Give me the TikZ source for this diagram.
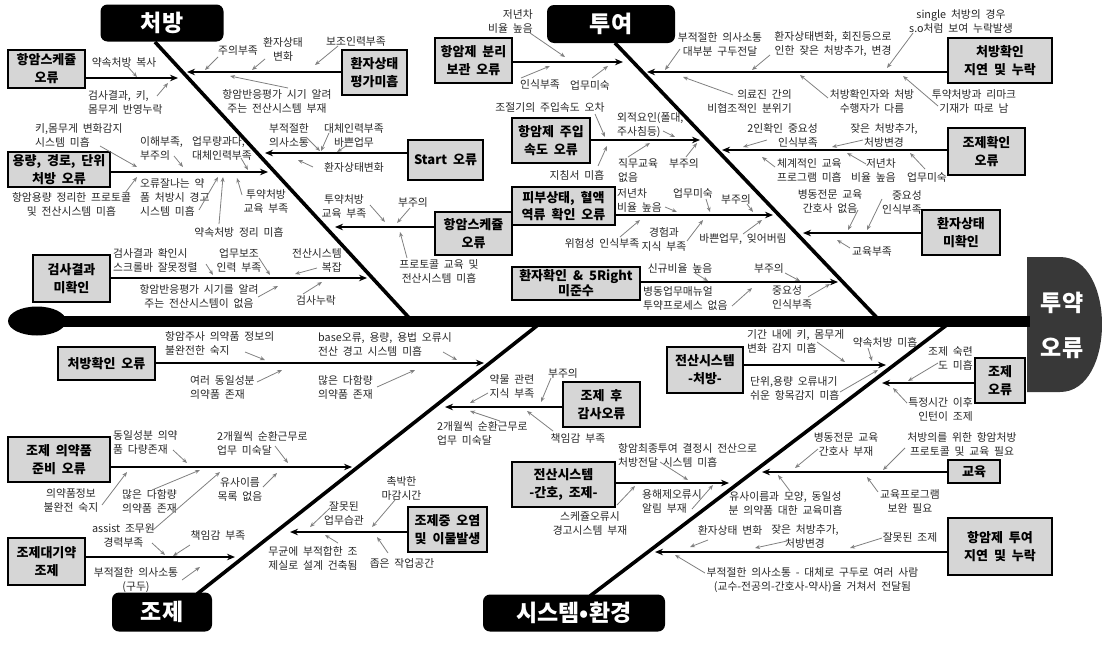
\documentclass[tikz,border=0pt]{standalone}
\usepackage{fontspec}
\setmainfont{Noto Sans CJK KR}[WordSpace=2]
\usetikzlibrary{arrows.meta,shapes.geometric}
\begin{document}
\begin{tikzpicture}[x=1pt,y=-1pt,
  lab/.style={font=\fontsize{10.8}{14}\selectfont, text=black!85, inner sep=0pt, align=center},
  labl/.style={lab, align=left, anchor=west},
  labr/.style={lab, align=right, anchor=east},
  cbox/.style={draw=black, line width=1.8pt, fill=black!16, font=\bfseries\fontsize{13}{18}\selectfont, align=center, inner sep=0pt},
  catbox/.style={fill=black, rounded corners=7pt, text=white, font=\bfseries\fontsize{23}{26}\selectfont, inner sep=0pt},
  headtxt/.style={text=white, font=\bfseries\fontsize{23}{26}\selectfont, inner sep=0pt},
  mainarr/.style={line width=1.8pt, -{Stealth[length=8pt,width=6.5pt]}},
  garr/.style={draw=black!50, line width=0.8pt, -{Stealth[length=5pt,width=4pt]}},
  bone/.style={line width=3.6pt},
]
\useasboundingbox (0,0) rectangle (1102,645);

% ---------- spine, tail, head ----------
\node[ellipse, fill=black, minimum width=58pt, minimum height=29pt, inner sep=0pt] (tail) at (37,321) {};
\coordinate (hd) at (1030,321);
\fill[black!78, rounded corners=4pt] (1027,392) -- (1027,257) -- (1045,257);
\fill[black!78] (1027,257) -- (1060,257) .. controls (1116,257) and (1116,392) .. (1060,392) -- (1027,392) -- cycle;
\draw[line width=11pt] (tail.center) -- (hd);
\node[headtxt] (h1) at (1062,303) {투약};
\node[headtxt] (h2) at (1062,348) {오류};

% ---------- categories ----------
\node[catbox, minimum width=123pt, minimum height=37pt] (cat1) at (162,23) {처방};
\node[catbox, minimum width=128pt, minimum height=38pt] (cat2) at (611,24) {투여};
\node[catbox, minimum width=100pt, minimum height=39pt] (cat3) at (162,612) {조제};
\node[catbox, minimum width=182pt, minimum height=37pt] (cat4) at (574,613) {시스템•환경};

% ---------- bones ----------
\coordinate (k1) at (155,42);  \coordinate (s1) at (412,321);
\coordinate (k2) at (615,43);  \coordinate (s2) at (880,321);
\coordinate (k3) at (197,594); \coordinate (s3) at (543,321);
\coordinate (k4) at (590,596); \coordinate (s4) at (952,321);
\draw[bone] (k1) -- (s1);
\draw[bone] (k2) -- (s2);
\draw[bone] (s3) -- (k3);
\draw[bone] (s4) -- (k4);

% ---------- cause boxes ----------
\node[cbox, minimum width=77pt, minimum height=38pt] (b1) at (46.5,69) {항암스케쥴\\오류};
\node[cbox, minimum width=65pt, minimum height=45pt] (b2) at (374.5,72.5) {환자상태\\평가미흡};
\node[cbox, minimum width=102pt, minimum height=35pt] (b3) at (59,169.5) {용량, 경로, 단위\\처방 오류};
\node[cbox, minimum width=75pt, minimum height=40pt] (b4) at (445.5,160) {Start 오류};
\node[cbox, minimum width=77pt, minimum height=47pt] (b5) at (71.5,278.5) {검사결과\\미확인};
\node[cbox, minimum width=77pt, minimum height=43pt] (b6) at (473.5,233.5) {항암스케쥴\\오류};
\node[cbox, minimum width=97pt, minimum height=33pt] (b7) at (106.5,363.5) {처방확인 오류};
\node[cbox, minimum width=103pt, minimum height=38pt, font=\bfseries\fontsize{13}{17}\selectfont] (b8) at (563.5,206) {피부상태, 혈액\\역류 확인 오류};
\node[cbox, minimum width=128pt, minimum height=33pt, font=\bfseries\fontsize{13}{15}\selectfont] (b9) at (576,283.5) {환자확인 \& 5Right\\미준수};
\node[cbox, minimum width=77pt, minimum height=45pt] (b10) at (473.5,60.5) {항암제 분리\\보관 오류};
\node[cbox, minimum width=78pt, minimum height=45pt] (b11) at (551,140.5) {항암제 주입\\속도 오류};
\node[cbox, minimum width=104pt, minimum height=45pt] (b12) at (1000,60.5) {처방확인\\지연 및 누락};
\node[cbox, minimum width=77pt, minimum height=47pt] (b13) at (986.5,151.5) {조제확인\\오류};
\node[cbox, minimum width=78pt, minimum height=45pt] (b14) at (961,232.5) {환자상태\\미확인};
\node[cbox, minimum width=76pt, minimum height=46pt] (b15) at (705,370) {전산시스템\\-처방-};
\node[cbox, minimum width=50pt, minimum height=45pt] (b16) at (1000,380.5) {조제\\오류};
\node[cbox, minimum width=103pt, minimum height=45pt] (b17) at (563.5,484.5) {전산시스템\\-간호, 조제-};
\node[cbox, minimum width=52pt, minimum height=23pt] (b18) at (974,471.5) {교육};
\node[cbox, minimum width=104pt, minimum height=57pt] (b19) at (1000,546.5) {항암제 투여\\지연 및 누락};
\node[cbox, minimum width=77pt, minimum height=45pt] (b20) at (601.5,404.5) {조제 후\\감사오류};
\node[cbox, minimum width=102pt, minimum height=45pt] (b21) at (59,459.5) {조제 의약품\\준비 오류};
\node[cbox, minimum width=77pt, minimum height=47pt] (b22) at (46.5,561.5) {조제대기약\\조제};
\node[cbox, minimum width=79pt, minimum height=45pt] (b23) at (447.5,529.5) {조제중 오염\\및 이물발생};

% ---------- main sub-bone arrows ----------
\coordinate (e1) at (178,78);   \draw[mainarr] (b1.east |- e1) -- (e1);
\coordinate (e2) at (187,72);   \draw[mainarr] (b2.west |- e2) -- (e2);
\coordinate (e3) at (268,172);  \draw[mainarr] (b3.east |- e3) -- (e3);
\coordinate (e4) at (265,153);  \draw[mainarr] (b4.west |- e4) -- (e4);
\coordinate (e5) at (367,278);  \draw[mainarr] (b5.east |- e5) -- (e5);
\coordinate (e6) at (335,227);  \draw[mainarr] (b6.west |- e6) -- (e6);
\coordinate (e7) at (484,363);  \draw[mainarr] (b7.east |- e7) -- (e7);
\coordinate (e8) at (773,215);  \draw[mainarr] (b8.east |- e8) -- (e8);
\coordinate (e9) at (838,282);  \draw[mainarr] (b9.east |- e9) -- (e9);
\coordinate (e10) at (623,62);  \draw[mainarr] (b10.east |- e10) -- (e10);
\coordinate (e11) at (700,140); \draw[mainarr] (b11.east |- e11) -- (e11);
\coordinate (e12) at (647,72);  \draw[mainarr] (b12.west |- e12) -- (e12);
\coordinate (e13) at (722,150); \draw[mainarr] (b13.west |- e13) -- (e13);
\coordinate (e14) at (803,233); \draw[mainarr] (b14.west |- e14) -- (e14);
\coordinate (e15) at (886,365); \draw[mainarr] (b15.east |- e15) -- (e15);
\coordinate (e16) at (882,383); \draw[mainarr] (b16.west |- e16) -- (e16);
\coordinate (e17) at (729,483); \draw[mainarr] (b17.east |- e17) -- (e17);
\coordinate (e18) at (762,472); \draw[mainarr] (b18.west |- e18) -- (e18);
\coordinate (e19) at (655,552); \draw[mainarr] (b19.west |- e19) -- (e19);
\coordinate (e20) at (445,407); \draw[mainarr] (b20.west |- e20) -- (e20);
\coordinate (e21) at (352,467); \draw[mainarr] (b21.east |- e21) -- (e21);
\coordinate (e22) at (235,557); \draw[mainarr] (b22.east |- e22) -- (e22);
\coordinate (e23) at (290,532); \draw[mainarr] (b23.west |- e23) -- (e23);

% ---------- labels: 처방 ----------
\node[lab] (l1) at (124,62) {약속처방 복사};
\draw[garr] (128,67) -- (137,77);
\node[labl] (l2) at (88,102.5) {검사결과, 키,\\몸무게 반영누락};
\draw[garr] (157,96) -- (168,83);
\node[lab] (l3) at (238,50) {주의부족};
\draw[garr] (218,57) -- (205,70);
\node[lab] (l4) at (283,49.5) {환자상태\\변화};
\draw[garr] (265,59) -- (252,70);
\node[lab] (l5) at (356,41) {보조인력부족};
\draw[garr] (338,46) -- (315,65);
\node[lab] (l6) at (277,101.5) {항암반응평가 시기 알려\\주는 전산시스템 부재};
\draw[garr] (288,88) -- (230,76);
\node[labl] (l7) at (35,135.5) {키,몸무게 변화감지\\시스템 미흡};
\draw[garr] (100,146) -- (137,167);
\node[labl] (l8) at (140,148) {이해부족,\\부주의};
\draw[garr] (174,156) -- (183,167);
\node[labl] (l9) at (192,148) {업무량과다,\\대체인력부족};
\draw[garr] (241,158) -- (248,170);
\node[lab] (l10) at (71.5,204.5) {항암용량 정리한 프로토콜\\및 전산시스템 미흡};
\draw[garr] (125,193) -- (137,177);
\node[labl] (l11) at (140,197.5) {오류잘나는 약\\품 처방시 경고\\시스템 미흡};
\draw[garr] (199,210) -- (218,177);
\node[lab] (l12) at (239,232) {약속처방 정리 미흡};
\draw[garr] (219,224) -- (223,177);
\node[lab] (l13) at (266,201.5) {투약처방\\교육 부족};
\draw[garr] (242,195) -- (237,178);
\node[lab] (l14) at (289,135.5) {부적절한\\의사소통};
\draw[garr] (306,137) -- (320,151);
\node[lab] (l15) at (354,135.5) {대체인력부족\\바쁜업무};
\draw[garr] (329,133) -- (321,151);
\draw[garr] (346,146) -- (337,152);
\node[lab] (l16) at (354,167) {환자상태변화};
\draw[garr] (313,167) -- (298,160);
\node[labl] (l17) at (113,260.5) {검사결과 확인시\\스크롤바 잘못정렬};
\draw[garr] (206,264) -- (213,275);
\node[lab] (l18) at (239,260.5) {업무보조\\인력 부족};
\draw[garr] (259,258) -- (270,275);
\node[labr] (l19) at (342,260.5) {전산시스템\\복잡};
\draw[garr] (317,268) -- (295,274);
\node[lab] (l20) at (199,296) {항암반응평가 시기를 알려\\주는 전산시스템이 없음};
\draw[garr] (258,297) -- (278,286);
\node[lab] (l21) at (316,300) {검사누락};
\draw[garr] (303,294) -- (322,282);
\node[lab] (l22) at (344,206) {투약처방\\교육 부족};
\draw[garr] (370,205) -- (385,222);
\node[lab] (l23) at (413,202) {부주의};
\draw[garr] (410,208) -- (397,223);
\node[lab] (l24) at (439,271.5) {프로토콜 교육 및\\전산시스템 미흡};
\draw[garr] (407,258) -- (400,232);
\node[labl] (l25) at (165,343.5) {항암주사 의약품 정보의\\불완전한 숙지};
\draw[garr] (245,352) -- (265,360);
\node[labl] (l26) at (190,387.5) {여러 동일성분\\의약품 존재};
\draw[garr] (257,382) -- (282,370);
\node[labl] (l27) at (318,344.5) {base오류, 용량, 용법 오류시\\전산 경고 시스템 미흡};
\draw[garr] (443,352) -- (457,360);
\node[labl] (l28) at (318,387.5) {많은 다함량\\의약품 존재};
\draw[garr] (377,387) -- (415,370);

% ---------- labels: 투여 ----------
\node[labr] (m1) at (533,21.5) {저년차\\비율 높음};
\draw[garr] (530,33) -- (565,57);
\node[lab] (m2) at (540,84) {인식부족};
\draw[garr] (521,78) -- (550,66);
\node[lab] (m3) at (590,85) {업무미숙};
\draw[garr] (592,78) -- (608,66);
\node[lab] (m4) at (550,107) {조절기의 주입속도 오차};
\draw[garr] (595,114) -- (605,137);
\node[labl] (m5) at (617,125) {외적요인(폴대,\\주사침등)};
\draw[garr] (663,131) -- (675,137);
\node[lab] (m6) at (577,175) {지침서 미흡};
\draw[garr] (598,166) -- (607,146);
\node[labl] (m7) at (618,170) {직무교육\\없음};
\draw[garr] (628,157) -- (650,143);
\node[lab] (m8) at (684,163) {부주의};
\draw[garr] (686,157) -- (697,143);
\node[labl] (m9) at (617,200.5) {저년차\\비율 높음};
\draw[garr] (665,207) -- (677,212);
\node[lab] (m10) at (693,193) {업무미숙};
\draw[garr] (706,199) -- (710,212);
\node[lab] (m11) at (736,199) {부주의};
\draw[garr] (747,204) -- (753,212);
\node[lab] (m12) at (602,243) {위험성 인식부족};
\draw[garr] (620,237) -- (640,220);
\node[lab] (m13) at (664,239) {경험과\\지식 부족};
\draw[garr] (687,241) -- (703,220);
\node[lab] (m14) at (743,239) {바쁜업무, 잊어버림};
\draw[garr] (743,234) -- (762,220);
\node[lab] (m15) at (680,268) {신규비율 높음};
\draw[garr] (695,273) -- (708,281);
\node[lab] (m16) at (769,268) {부주의};
\draw[garr] (785,273) -- (800,281);
\node[labl] (m17) at (643,298.5) {병동업무매뉴얼\\투약프로세스 없음};
\draw[garr] (732,306) -- (752,288);
\node[labl] (m18) at (772,297.5) {중요성\\인식부족};
\draw[garr] (808,297) -- (830,284);
\node[lab] (m19) at (720,44.5) {부적절한 의사소통\\대부분 구두전달};
\draw[garr] (680,49) -- (665,70);
\node[lab] (m20) at (833,44.5) {환자상태변화, 회진등으로\\인한 잦은 처방추가, 변경};
\draw[garr] (770,55) -- (752,70);
\node[lab] (m21) at (961,21.5) {single 처방의 경우\\s.o처럼 보여 누락발생};
\draw[garr] (913,33) -- (887,68);
\node[labr] (m22) at (792,101.5) {의료진 간의\\비협조적인 분위기};
\draw[garr] (733,95) -- (683,77);
\node[lab] (m23) at (872,101.5) {처방확인자와 처방\\수행자가 다름};
\draw[garr] (828,98) -- (800,75);
\node[lab] (m24) at (974,101.5) {투약처방과 리마크\\기재가 따로 남};
\draw[garr] (938,106) -- (903,76);
\node[labr] (m25) at (818,135) {2인확인 중요성\\인식부족};
\draw[garr] (767,140) -- (743,147);
\node[lab] (m26) at (884,135.5) {잦은 처방추가,\\처방변경};
\draw[garr] (863,140) -- (832,147);
\node[labl] (m27) at (777,170) {체계적인 교육\\프로그램 미흡};
\draw[garr] (775,167) -- (762,157);
\node[labr] (m28) at (896,170) {저년차\\비율 높음};
\draw[garr] (866,164) -- (847,153);
\node[lab] (m29) at (927,177) {업무미숙};
\draw[garr] (925,169) -- (910,153);
\node[lab] (m30) at (830,201.5) {병동전문 교육\\간호사 없음};
\draw[garr] (858,210) -- (848,230);
\node[labr] (m31) at (922,202.5) {중요성\\인식부족};
\draw[garr] (882,199) -- (867,230);
\node[lab] (m32) at (872,252) {교육부족};
\draw[garr] (850,248) -- (837,240);

% ---------- labels: 시스템·환경 ----------
\node[labl] (n1) at (747,341.5) {기간 내에 키, 몸무게\\변화 감지 미흡};
\draw[garr] (817,342) -- (845,362);
\node[lab] (n2) at (885,342) {약속처방 미흡};
\draw[garr] (868,348) -- (872,361);
\node[labl] (n3) at (750,388.5) {단위,용량 오류내기\\쉬운 항목감지 미흡};
\draw[garr] (840,392) -- (878,370);
\node[labr] (n4) at (973,358.5) {조제 숙련\\도 미흡};
\draw[garr] (938,363) -- (908,381);
\node[labr] (n5) at (973,409.5) {특정시간 이후\\인턴이 조제};
\draw[garr] (907,403) -- (893,388);
\node[labl] (n6) at (618,455) {항암최종투여 결정시 전산으로\\처방전달 시스템 미흡};
\draw[garr] (660,462) -- (688,480);
\node[labl] (n7) at (642,501.5) {용해제오류시\\알림 부재};
\draw[garr] (692,509) -- (713,485);
\node[lab] (n8) at (590,523.5) {스케쥴오류시\\경고시스템 부재};
\draw[garr] (617,505) -- (635,486);
\node[lab] (n9) at (846,444.5) {병동전문 교육\\간호사 부재};
\draw[garr] (818,449) -- (795,468);
\node[lab] (n10) at (962,444.5) {처방의를 위한 항암처방\\프로토콜 및 교육 필요};
\draw[garr] (905,448) -- (883,470);
\node[lab] (n11) at (910,501.5) {교육프로그램\\보완 필요};
\draw[garr] (878,492) -- (867,477);
\node[lab] (n12) at (785.5,503.5) {유사이름과 모양, 동일성\\분 의약품 대한 교육미흡};
\draw[garr] (790,491) -- (778,475);
\node[lab] (n13) at (730,530) {환자상태 변화};
\draw[garr] (708,540) -- (690,547);
\node[lab] (n14) at (805,536.5) {잦은 처방추가,\\처방변경};
\draw[garr] (787,541) -- (755,548);
\node[lab] (n15) at (910,537) {잘못된 조제};
\draw[garr] (882,538) -- (850,548);
\node[lab] (n16) at (812.5,580) {부적절한 의사소통 - 대체로 구두로 여러 사람\\(교수-전공의-간호사-약사)을 거쳐서 전달됨};
\draw[garr] (705,573) -- (675,555);

% ---------- labels: 조제 ----------
\node[lab] (p1) at (512,386.5) {약물 관련\\지식 부족};
\draw[garr] (488,393) -- (470,403);
\node[lab] (p2) at (563,373) {부주의};
\draw[garr] (551,378) -- (541,402);
\node[labl] (p3) at (437,433.5) {2개월씩 순환근무로\\업무 미숙달};
\draw[garr] (500,421) -- (470,411);
\node[lab] (p4) at (578,438) {책임감 부족};
\draw[garr] (553,431) -- (527,411);
\node[labl] (p5) at (113,442.5) {동일성분 의약\\품 다량존재};
\draw[garr] (173,450) -- (187,463);
\node[labl] (p6) at (217,443.5) {2개월씩 순환근무로\\업무 미숙달};
\draw[garr] (275,446) -- (288,463);
\node[lab] (p7) at (71,500) {의약품정보\\불완전 숙지};
\draw[garr] (102,505) -- (127,472);
\node[lab] (p8) at (149.5,501.5) {많은 다함량\\의약품 존재};
\draw[garr] (152,490) -- (200,470);
\node[lab] (p9) at (240,489.5) {유사이름\\목록 없음};
\draw[garr] (263,487) -- (277,473);
\node[lab] (p10) at (123.5,535) {assist 조무원\\경력부족};
\draw[garr] (153,530) -- (220,472);
\draw[garr] (152,543) -- (165,555);
\node[lab] (p11) at (218,535) {책임감 부족};
\draw[garr] (190,545) -- (173,556);
\node[lab] (p12) at (136,580) {부적절한 의사소통\\(구두)};
\draw[garr] (182,580) -- (200,567);
\node[lab] (p13) at (401.5,488.5) {촉박한\\마감시간};
\draw[garr] (395,500) -- (372,527);
\node[lab] (p14) at (344,513.5) {잘못된\\업무습관};
\draw[garr] (330,508) -- (310,527);
\node[lab] (p15) at (313,558.5) {무균에 부적합한 조\\제실로 설계 건축됨};
\draw[garr] (338,543) -- (325,535);
\node[lab] (p16) at (402,563) {좁은 작업공간};
\draw[garr] (388,553) -- (377,537);
\end{tikzpicture}
\end{document}
